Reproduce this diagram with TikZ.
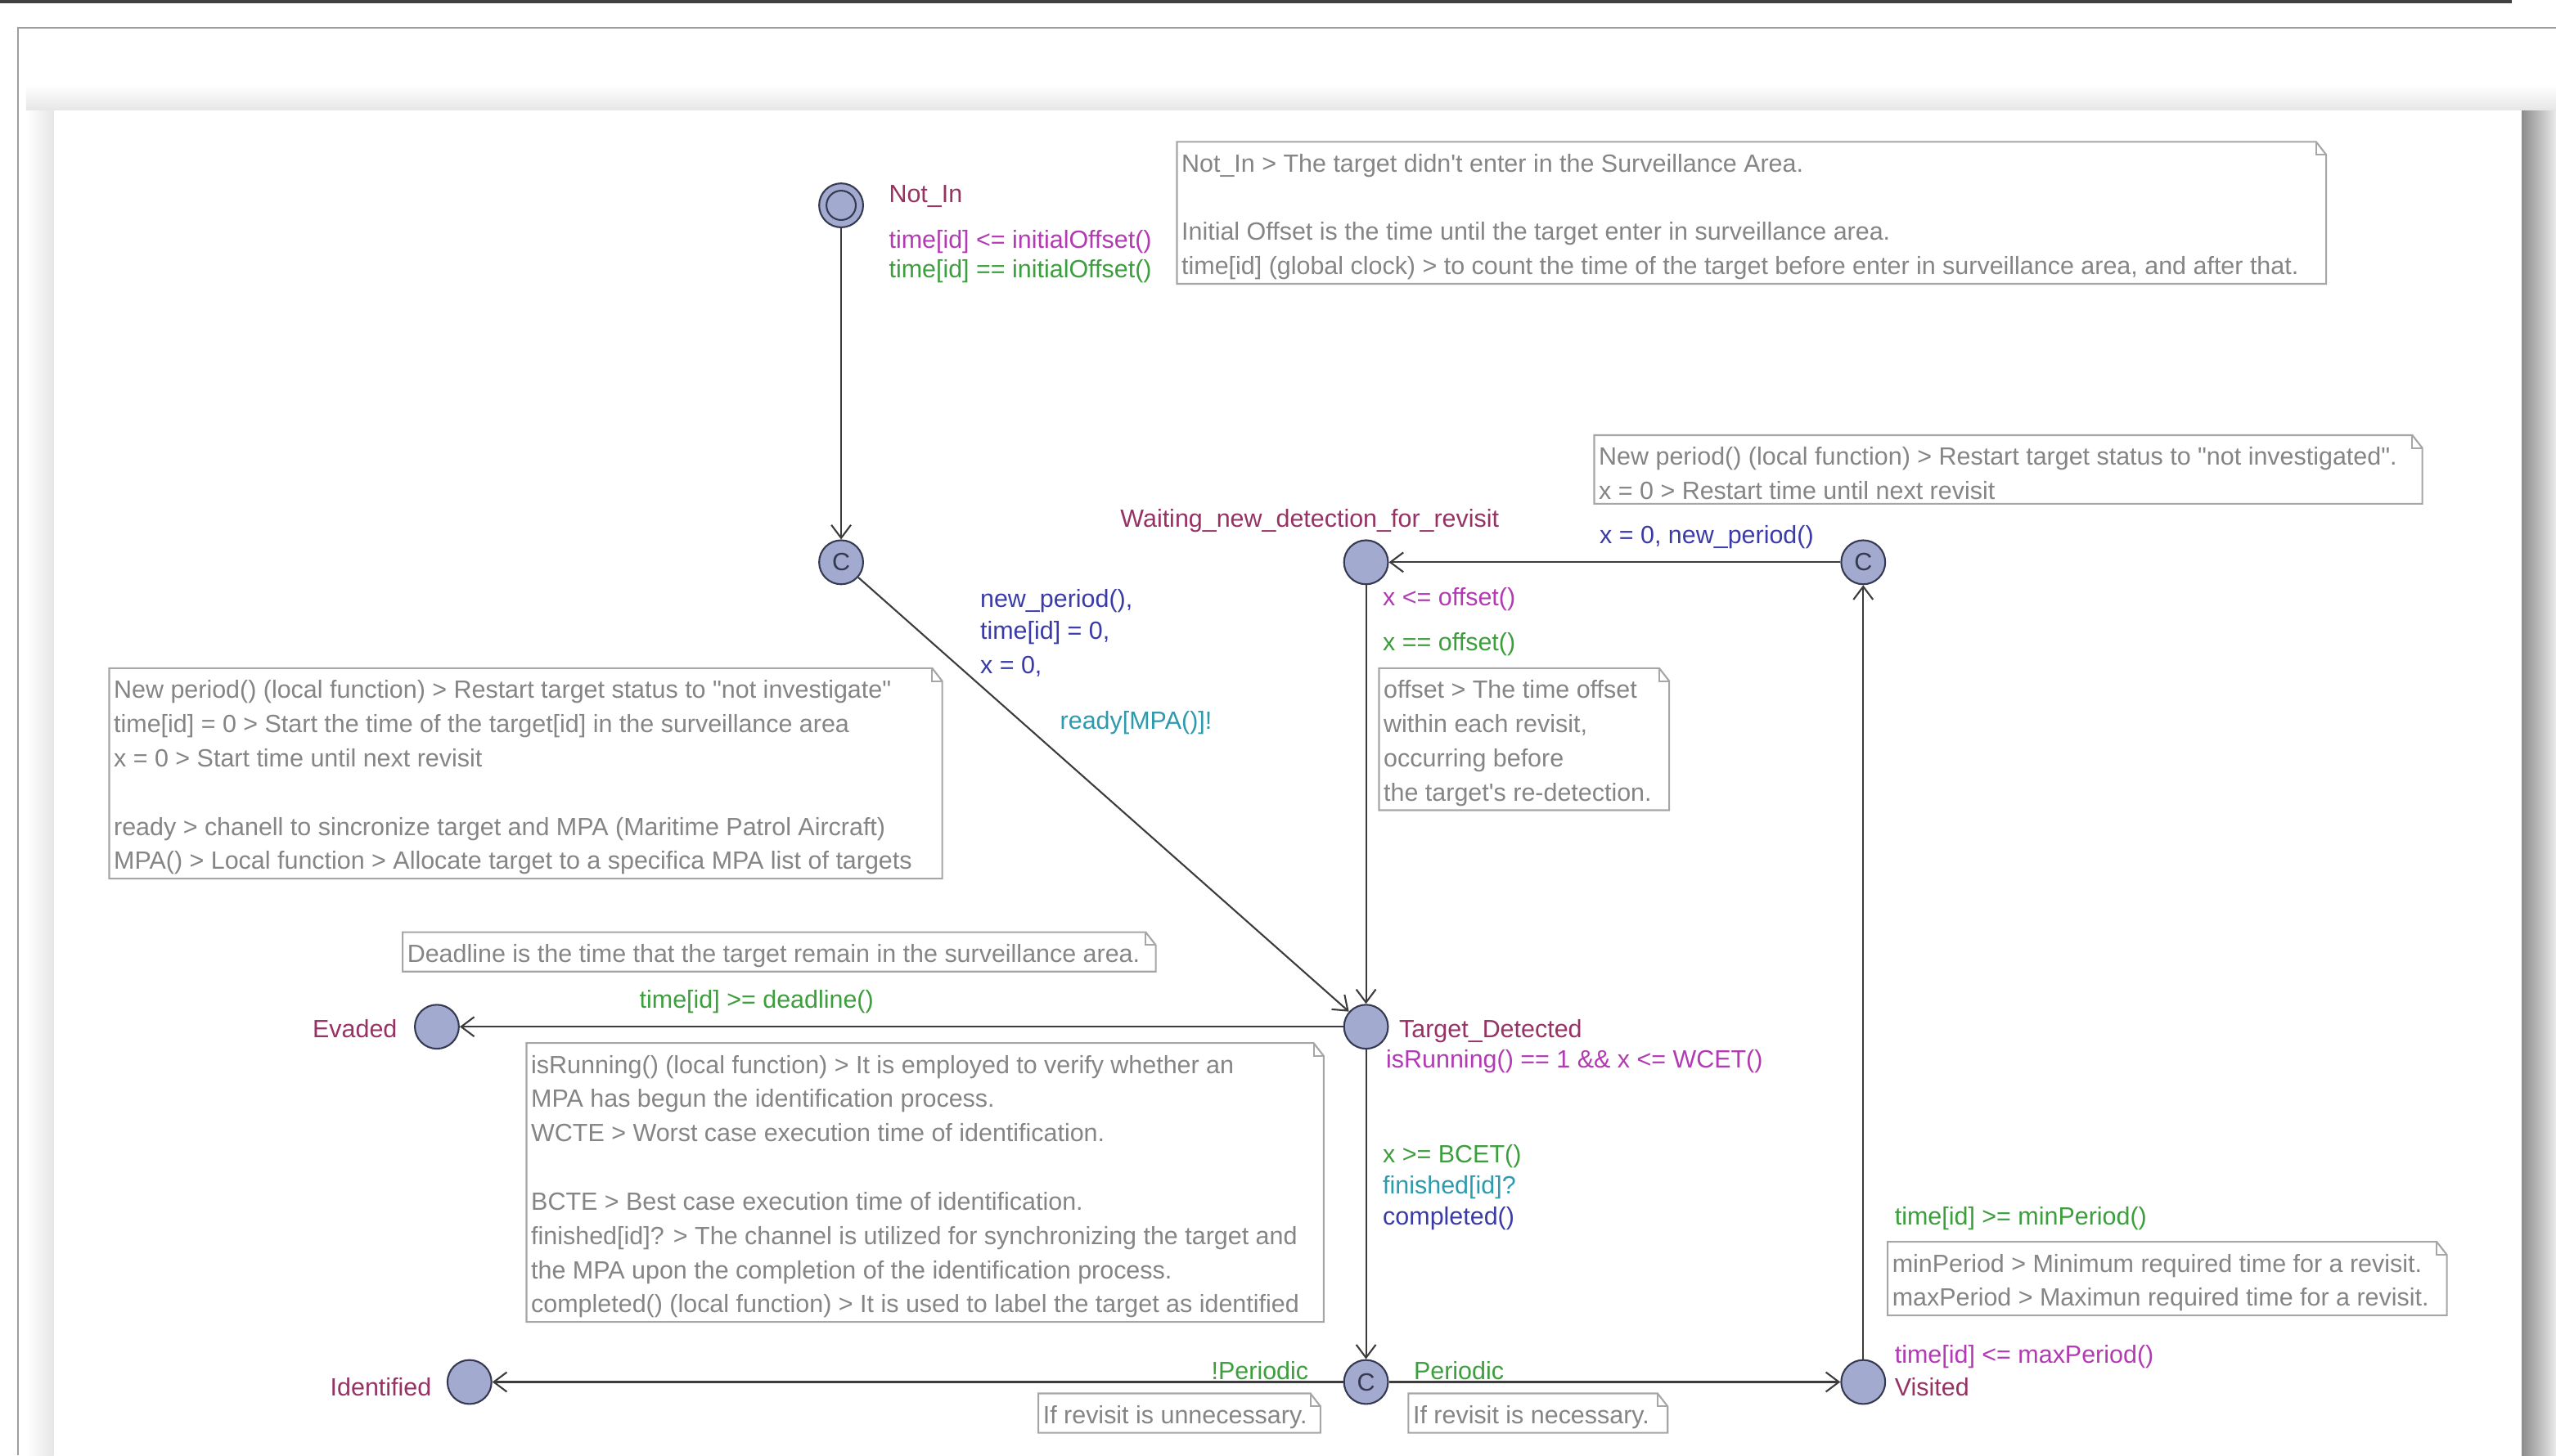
\documentclass[tikz,border=0pt]{standalone}
\usepackage{fontspec}
\setmainfont{Liberation Sans}
\usetikzlibrary{arrows.meta, positioning, calc}
\definecolor{locfill}{HTML}{A3AAD0}
\definecolor{locline}{HTML}{353A50}
\definecolor{edgegray}{HTML}{3C3C3C}
\definecolor{notegray}{HTML}{858585}
\definecolor{noteline}{HTML}{A6A6A6}
\definecolor{namecol}{HTML}{963264}
\definecolor{invcol}{HTML}{B23AB2}
\definecolor{guardcol}{HTML}{3C9E3C}
\definecolor{synccol}{HTML}{2E9AAE}
\definecolor{updcol}{HTML}{3B3BA8}

\begin{document}
\begin{tikzpicture}[x=0.02cm, y=-0.02cm,
  loc/.style={circle, draw=locline, fill=locfill, line width=0.6pt, minimum size=0.54cm, inner sep=0pt},
  committed/.style={loc, font=\fontsize{8.7}{9}\selectfont, text=locline},
  lbl/.style={inner sep=0pt, text height=6.4pt, text depth=1.8pt, yshift=-0.8pt, font=\fontsize{8.7}{10}\selectfont},
  locname/.style={lbl, text=namecol},
  inv/.style={lbl, text=invcol},
  guard/.style={lbl, text=guardcol},
  sync/.style={lbl, text=synccol},
  upd/.style={lbl, text=updcol},
  note/.style={anchor=north west, align=left, inner xsep=0.05cm, inner ysep=1.2pt, text=notegray, font=\fontsize{8.7}{11.95}\selectfont},
  noteframe/.style={draw=noteline, line width=0.6pt},
  trans/.style={draw=edgegray, line width=0.6pt, -{Straight Barb[length=1.6mm, width=2.4mm]}}
]
\useasboundingbox (0,0) rectangle (1568,893);

% Window
\fill[white] (0,0) rectangle (1568,893);
\draw[black!75, line width=1pt] (0,1) -- (1541,1);
\draw[gray!75, line width=0.6pt] (1568,17) -- (11,17) -- (11,893);
\shade[top color=white, bottom color=black!10] (16,52) rectangle (1568,68);
\shade[left color=white, right color=black!10] (16,68) rectangle (33,893);
\shade[left color=black!45, right color=black!8] (1547,68) rectangle (1568,893);
\fill[white] (33,68) rectangle (1547,893);

% Locations
\node[loc] (notin) at (516,126) {};
\draw[locline, line width=0.6pt] (notin.center) circle[radius=0.18cm];
\node[committed] (c1) at (516,345) {C};
\node[loc] (wait) at (838,345) {};
\node[committed] (c2) at (1143,345) {C};
\node[loc] (detected) at (838,630) {};
\node[loc] (evaded) at (268,630) {};
\node[committed] (c3) at (838,848) {C};
\node[loc] (identified) at (288,848) {};
\node[loc] (visited) at (1143,848) {};

% Transitions
\draw[trans] (notin) -- (c1);
\draw[trans] (c1) -- (detected);
\draw[trans] (wait) -- (detected);
\draw[trans] (c2) -- (wait);
\draw[trans] (detected) -- (evaded);
\draw[trans] (detected) -- (c3);
\draw[trans] (c3) -- (identified);
\draw[trans] (c3) -- (visited);
\draw[trans] (visited) -- (c2);

% Names and invariants
\node[locname, anchor=west] (notinname) at (545,119) {Not\_In};
\node[inv, anchor=west] (notininv) at (545,147) {time[id] <= initialOffset()};
\node[locname, anchor=west] (waitname) at (687,318) {Waiting\_new\_detection\_for\_revisit};
\node[inv, anchor=west] (waitinv) at (848,366) {x <= offset()};
\node[locname, anchor=west] (detname) at (858,631) {Target\_Detected};
\node[inv, anchor=west] (detinv) at (850,650) {isRunning() == 1 \&\& x <= WCET()};
\node[locname, anchor=east] (evname) at (244,631) {Evaded};
\node[locname, anchor=east] (idname) at (265,851) {Identified};
\node[locname, anchor=west] (visname) at (1162,851) {Visited};
\node[inv, anchor=west] (visinv) at (1162,831) {time[id] <= maxPeriod()};

% Guards, syncs, updates
\node[guard, anchor=west] (g1) at (545,165) {time[id] == initialOffset()};
\node[upd, anchor=west] (u1a) at (601,367) {new\_period(),};
\node[upd, anchor=west] (u1b) at (601,387) {time[id] = 0,};
\node[upd, anchor=west] (u1c) at (601,408) {x = 0,};
\node[sync, anchor=west] (s1) at (650,442) {ready[MPA()]!};
\node[guard, anchor=west] (g2) at (848,394) {x == offset()};
\node[upd, anchor=west] (u2) at (981,328) {x = 0, new\_period()};
\node[guard, anchor=west] (g3) at (392,613) {time[id] >= deadline()};
\node[guard, anchor=west] (g4) at (848,708) {x >= BCET()};
\node[sync, anchor=west] (s4) at (848,727) {finished[id]?};
\node[upd, anchor=west] (u4) at (848,746) {completed()};
\node[guard, anchor=east] (g5) at (803,841) {!Periodic};
\node[guard, anchor=west] (g6) at (867,841) {Periodic};
\node[guard, anchor=west] (g7) at (1162,746) {time[id] >= minPeriod()};

% Notes (text set 5 units below the frame top)
\node[note] (notinnote) at (722,92) {Not\_In > The target didn\textquotesingle t enter in the Surveillance Area.\\ \mbox{}\\
  Initial Offset is the time until the target enter in surveillance area.\\
  time[id] (global clock) > to count the time of the target before enter in surveillance area, and after that.};
\node[note] (periodnote) at (978,272) {New period() (local function) > Restart target status to \textquotedbl not investigated\textquotedbl.\\
  x = 0 > Restart time until next revisit};
\node[note] (startnote) at (67,415) {New period() (local function) > Restart target status to \textquotedbl not investigate\textquotedbl\\
  time[id] = 0 > Start the time of the target[id] in the surveillance area\\
  x = 0 > Start time until next revisit\\ \mbox{}\\
  ready > chanell to sincronize target and MPA (Maritime Patrol Aircraft)\\
  MPA() > Local function > Allocate target to a specifica MPA list of targets};
\node[note] (offsetnote) at (846,415) {offset > The time offset\\ within each revisit,\\ occurring before\\ the target\textquotesingle s re-detection.};
\node[note] (deadnote) at (247,577) {Deadline is the time that the target remain in the surveillance area.};
\node[note] (runnote) at (323,645) {isRunning() (local function) > It is employed to verify whether an\\
  MPA has begun the identification process.\\
  WCTE > Worst case execution time of identification.\\ \mbox{}\\
  BCTE > Best case execution time of identification.\\
  finished[id]? > The channel is utilized for synchronizing the target and\\
  the MPA upon the completion of the identification process.\\
  completed() (local function) > It is used to label the target as identified};
\node[note] (unnote) at (637,860) {If revisit is unnecessary.};
\node[note] (necnote) at (864,860) {If revisit is necessary.};
\node[note] (minmaxnote) at (1158,767) {minPeriod > Minimum required time for a revisit.\\
  maxPeriod > Maximun required time for a revisit.};

\foreach \n/\w in {notinnote/705, periodnote/508, startnote/511, offsetnote/178, deadnote/462,
                   runnote/489, unnote/173, necnote/159, minmaxnote/343}{
  \coordinate (nw) at ($(\n.north west)+(0,-5)$);
  \coordinate (ne) at ($(\n.north west)+(\w,-5)$);
  \coordinate (se) at ($(\n.south west)+(\w,0)$);
  \draw[noteframe] (\n.south west) -- (nw) -- ([xshift=-3.5pt]ne) -- ([yshift=-4.5pt]ne) -- (se) -- cycle;
  \draw[noteframe] ([xshift=-3.5pt]ne) -- ([xshift=-3.5pt, yshift=-4.5pt]ne) -- ([yshift=-4.5pt]ne);
}

\end{tikzpicture}
\end{document}
